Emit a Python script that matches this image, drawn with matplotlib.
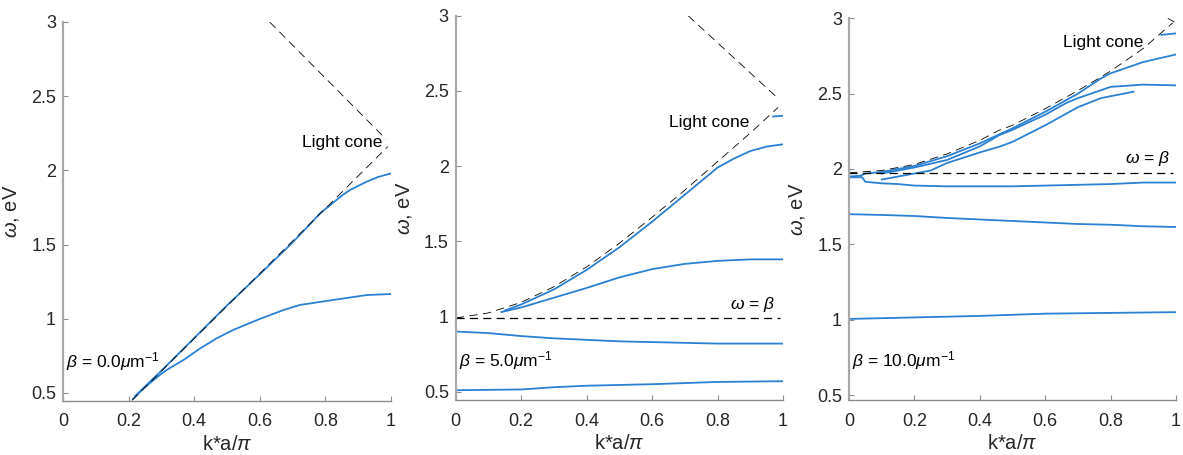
import numpy as np
import matplotlib
matplotlib.use('Agg')
import matplotlib.pyplot as plt

plt.rcParams['font.family'] = ['Liberation Sans', 'DejaVu Sans']
plt.rcParams['mathtext.fontset'] = 'custom'
plt.rcParams['mathtext.rm'] = 'Liberation Sans'
plt.rcParams['mathtext.it'] = 'Liberation Sans:italic'
plt.rcParams['font.size'] = 12

BLUE = '#2a80d2'

# ---- panel 1, beta = 0 ----
p1_cone_k = [0.21, 0.99]
p1_cone_w = [0.45, 2.16]
p1_fold_k = [0.63, 0.985]
p1_fold_w = [3.00, 2.21]

p1_b1_k = [0.214, 0.245, 0.30, 0.316, 0.367, 0.418, 0.469, 0.519, 0.60, 0.672, 0.722, 0.824, 0.926, 1.0]
p1_b1_w = [0.46, 0.53, 0.63, 0.655, 0.722, 0.80, 0.869, 0.925, 0.999, 1.059, 1.093, 1.127, 1.160, 1.167]
p1_b2_k = [0.22, 0.30, 0.40, 0.50, 0.60, 0.692, 0.75, 0.784, 0.85, 0.875, 0.926, 0.96, 1.0]
p1_b2_w = [0.48, 0.65, 0.87, 1.09, 1.30, 1.497, 1.63, 1.711, 1.83, 1.868, 1.924, 1.955, 1.98]

# ---- panel 2, beta = 5 ----
p2_cone_k = [0.0, 0.1, 0.2, 0.3, 0.4, 0.5, 0.6, 0.7, 0.8, 0.9, 0.985]
p2_cone_w = [0.99, 1.024, 1.094, 1.198, 1.33, 1.487, 1.66, 1.84, 2.03, 2.22, 2.39]
p2_fold_k = [0.71, 0.985]
p2_fold_w = [3.00, 2.45]
p2_beta_k = [0.0, 0.99]
p2_beta_w = [0.99, 0.99]

p2_b1_k = [0.0, 0.2, 0.3, 0.4, 0.6, 0.8, 1.0]
p2_b1_w = [0.51, 0.515, 0.53, 0.54, 0.55, 0.565, 0.57]
p2_b2_k = [0.0, 0.1, 0.2, 0.3, 0.4, 0.5, 0.6, 0.7, 0.8, 0.9, 1.0]
p2_b2_w = [0.90, 0.89, 0.87, 0.855, 0.845, 0.835, 0.83, 0.825, 0.82, 0.82, 0.82]
p2_b3_k = [0.14, 0.2, 0.3, 0.4, 0.5, 0.6, 0.7, 0.8, 0.9, 1.0]
p2_b3_w = [1.03, 1.06, 1.125, 1.19, 1.26, 1.315, 1.35, 1.37, 1.38, 1.38]
p2_b4_k = [0.15, 0.2, 0.3, 0.4, 0.5, 0.6, 0.7, 0.8, 0.85, 0.9, 0.95, 1.0]
p2_b4_w = [1.04, 1.08, 1.18, 1.31, 1.46, 1.63, 1.81, 1.99, 2.05, 2.10, 2.13, 2.145]
p2_b5_k = [0.97, 1.0]
p2_b5_w = [2.33, 2.335]

# ---- panel 3, beta = 10 ----
p3_cone_k = [0.0, 0.1, 0.2, 0.3, 0.4, 0.46, 0.5, 0.6, 0.7, 0.77, 0.8, 0.9, 0.99]
p3_cone_w = [1.975, 1.99, 2.03, 2.10, 2.19, 2.258, 2.29, 2.40, 2.52, 2.61, 2.65, 2.80, 2.97]
p3_fold_k = [0.975, 0.995]
p3_fold_w = [3.00, 2.975]
p3_beta_k = [0.0, 0.99]
p3_beta_w = [1.975, 1.975]

p3_b1_k = [0.0, 0.2, 0.4, 0.6, 0.8, 1.0]
p3_b1_w = [1.005, 1.015, 1.025, 1.04, 1.045, 1.05]
p3_b2_k = [0.0, 0.1, 0.2, 0.3, 0.4, 0.5, 0.6, 0.7, 0.8, 0.9, 1.0]
p3_b2_w = [1.70, 1.695, 1.688, 1.675, 1.665, 1.655, 1.645, 1.635, 1.63, 1.62, 1.615]
p3_b3_k = [0.0, 0.04, 0.05, 0.1, 0.15, 0.2, 0.3, 0.5, 0.6, 0.8, 0.9, 1.0]
p3_b3_w = [1.945, 1.945, 1.915, 1.905, 1.90, 1.89, 1.885, 1.885, 1.89, 1.90, 1.91, 1.91]
p3_b4_k = [0.1, 0.15, 0.2, 0.25, 0.3, 0.4, 0.46, 0.5, 0.6, 0.7, 0.77, 0.87]
p3_b4_w = [1.93, 1.95, 1.97, 1.99, 2.04, 2.11, 2.148, 2.18, 2.29, 2.41, 2.47, 2.513]
p3_b5_k = [0.1, 0.2, 0.3, 0.4, 0.46, 0.5, 0.6, 0.666, 0.7, 0.8, 0.9, 1.0]
p3_b5_w = [1.97, 2.01, 2.06, 2.15, 2.225, 2.26, 2.36, 2.44, 2.47, 2.545, 2.56, 2.555]
p3_b6_k = [0.0, 0.035, 0.05, 0.1, 0.2, 0.3, 0.4, 0.5, 0.6, 0.7, 0.77, 0.8, 0.9, 1.0]
p3_b6_w = [1.95, 1.955, 1.97, 1.98, 2.02, 2.085, 2.17, 2.27, 2.38, 2.50, 2.60, 2.635, 2.71, 2.76]
p3_b7_k = [0.955, 1.0]
p3_b7_w = [2.89, 2.90]

xticks = [0, 0.2, 0.4, 0.6, 0.8, 1]
xticklabels = ['0', '0.2', '0.4', '0.6', '0.8', '1']
yticks = [0.5, 1, 1.5, 2, 2.5, 3]
yticklabels = ['0.5', '1', '1.5', '2', '2.5', '3']

fig = plt.figure(figsize=(11.83, 4.55), dpi=100)

W = 1183.0
H = 455.0
# (left px, right px, top px, bottom px, ymin)
boxes = [(63, 391, 22, 401, 0.446),
         (455.7, 783, 15.7, 400, 0.445),
         (849, 1176, 18.3, 400, 0.467)]

axs = []
for (l, r, t, b, ymin) in boxes:
    ax = fig.add_axes([l / W, (H - b) / H, (r - l) / W, (b - t) / H])
    ax.set_xlim(0, 1)
    ax.set_ylim(ymin, 3)
    ax.set_xticks(xticks)
    ax.set_xticklabels(xticklabels)
    ax.set_yticks(yticks)
    ax.set_yticklabels(yticklabels)
    ax.spines['top'].set_visible(False)
    ax.spines['right'].set_visible(False)
    ax.spines['left'].set_color('#a8a8a8')
    ax.spines['left'].set_linewidth(1.6)
    ax.spines['bottom'].set_color('#8c8c8c')
    ax.spines['bottom'].set_linewidth(1.0)
    ax.tick_params(direction='in', length=3.5, width=0.8, color='#8c8c8c',
                   labelsize=13, labelcolor='#262626')
    ax.tick_params(axis='x', pad=9)
    ax.tick_params(axis='y', pad=5)
    ax.set_xlabel(r'k*a/$\pi$', fontsize=14.5, color='#262626', labelpad=3)
    ax.set_ylabel(r'$\omega$, eV', fontsize=14.5, color='#262626', labelpad=7)
    axs.append(ax)

dash = dict(color='black', lw=0.6, dashes=(10, 6.5))
dash2 = dict(color='black', lw=0.9, dashes=(6.5, 4.2))
band = dict(color=BLUE, lw=1.3)

ax = axs[0]
ax.plot(p1_b1_k, p1_b1_w, **band)
ax.plot(p1_b2_k, p1_b2_w, **band)
ax.plot(p1_cone_k, p1_cone_w, **dash)
ax.plot(p1_fold_k, p1_fold_w, **dash)
ax.text(0.73, 2.19, 'Light cone', fontsize=12.5, va='center', ha='left')
ax.text(0.008, 0.71, r'$\beta$ = 0.0$\mu$m$^{-1}$', fontsize=12.5, va='center', ha='left')

ax = axs[1]
for k, w in [(p2_b1_k, p2_b1_w), (p2_b2_k, p2_b2_w), (p2_b3_k, p2_b3_w),
             (p2_b4_k, p2_b4_w), (p2_b5_k, p2_b5_w)]:
    ax.plot(k, w, **band)
ax.plot(p2_cone_k, p2_cone_w, **dash)
ax.plot(p2_fold_k, p2_fold_w, **dash)
ax.plot(p2_beta_k, p2_beta_w, **dash2)
ax.text(0.653, 2.29, 'Light cone', fontsize=12.5, va='center', ha='left')
ax.text(0.975, 1.077, r'$\omega$ = $\beta$', fontsize=12.5, va='center', ha='right')
ax.text(0.01, 0.71, r'$\beta$ = 5.0$\mu$m$^{-1}$', fontsize=12.5, va='center', ha='left')

ax = axs[2]
for k, w in [(p3_b1_k, p3_b1_w), (p3_b2_k, p3_b2_w), (p3_b3_k, p3_b3_w),
             (p3_b4_k, p3_b4_w), (p3_b5_k, p3_b5_w), (p3_b6_k, p3_b6_w),
             (p3_b7_k, p3_b7_w)]:
    ax.plot(k, w, **band)
ax.plot(p3_cone_k, p3_cone_w, **dash)
ax.plot(p3_fold_k, p3_fold_w, **dash)
ax.plot(p3_beta_k, p3_beta_w, **dash2)
ax.text(0.653, 2.84, 'Light cone', fontsize=12.5, va='center', ha='left')
ax.text(0.98, 2.07, r'$\omega$ = $\beta$', fontsize=12.5, va='center', ha='right')
ax.text(0.01, 0.73, r'$\beta$ = 10.0$\mu$m$^{-1}$', fontsize=12.5, va='center', ha='left')

fig.savefig('out.png', dpi=100)
plt.close(fig)
